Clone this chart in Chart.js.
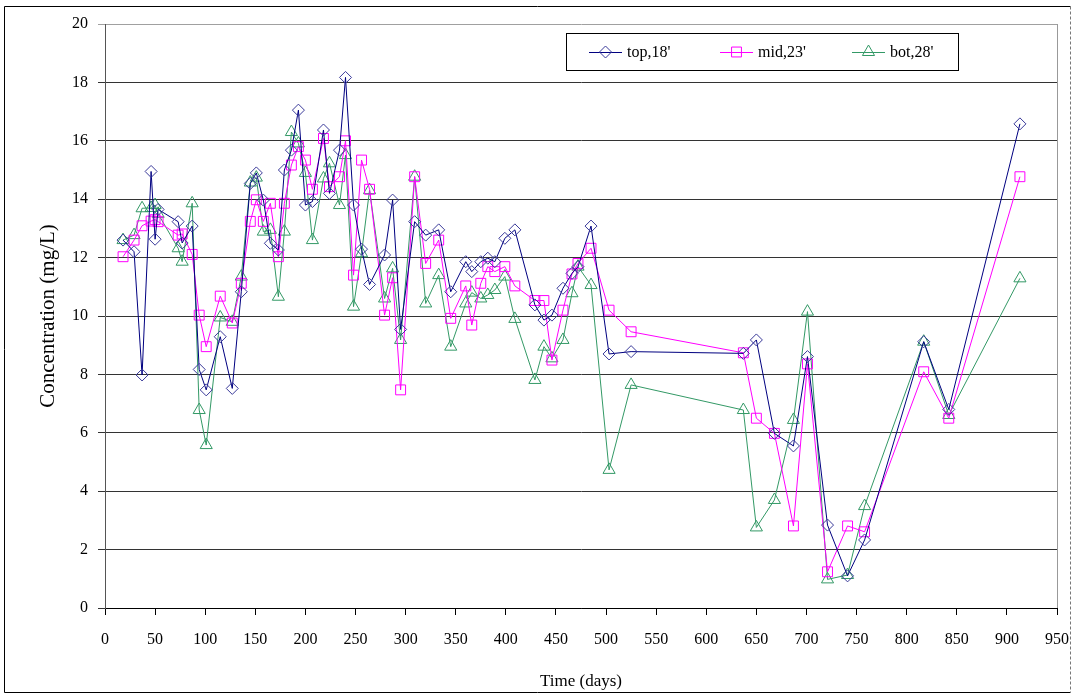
<!DOCTYPE html>
<html>
<head>
<meta charset="utf-8">
<script src="https://cdn.jsdelivr.net/npm/chart.js@4/dist/chart.umd.min.js"></script>
<style>
html, body { margin: 0; padding: 0; background: #fff; }
</style>
</head>
<body>
<canvas id="myChart" width="1075" height="698"></canvas>
<script>
// sampling days (shared by the three depths)
let days = [18, 29, 37, 46, 50, 53, 73, 77, 87, 94,
  101, 115, 127, 136, 145, 151, 158, 165, 173, 179,
  186, 193, 200, 207, 218, 224, 234, 240, 248, 256,
  264, 279, 287, 295, 309, 320, 333, 345, 360, 366,
  375, 382, 389, 399, 409, 429, 438, 446, 457, 466,
  472, 485, 503, 525, 637, 650, 668, 687, 701, 721,
  741, 758, 817, 842, 913];

let topValues = [12.6, 12.2, 7.98, 14.95, 12.63, 13.65, 13.23, 12.5, 13.08, 8.17,
  7.47, 9.29, 7.52, 10.83, 14.54, 14.9, 13.97, 12.49, 12.26, 15.0,
  15.68, 17.05, 13.8, 13.92, 16.37, 14.2, 15.68, 18.17, 13.8, 12.29,
  11.08, 12.09, 13.97, 9.54, 13.23, 12.77, 12.95, 10.83, 11.86, 11.52,
  11.86, 11.98, 11.86, 12.66, 12.95, 10.38, 9.86, 10.03, 10.95, 11.46,
  11.69, 13.08, 8.7, 8.78, 8.72, 9.18, 5.98, 5.55, 8.61, 2.84,
  1.1, 2.33, 9.12, 6.8, 16.58];

let midValues = [12.03, 12.6, 13.09, 13.25, 13.3, 13.23, 12.77, 12.81, 12.11, 10.03,
  8.95, 10.68, 9.76, 11.12, 13.24, 13.98, 13.24, 13.86, 12.03, 13.86,
  15.17, 15.8, 15.34, 14.34, 16.08, 14.43, 14.77, 16.0, 11.4, 15.34,
  14.34, 10.03, 11.31, 7.47, 14.77, 11.8, 12.6, 9.92, 11.03, 9.69,
  11.12, 11.69, 11.52, 11.69, 11.03, 10.53, 10.53, 8.49, 10.2, 11.44,
  11.8, 12.32, 10.2, 9.46, 8.74, 6.5, 5.98, 2.81, 8.36, 1.24,
  2.81, 2.61, 8.09, 6.5, 14.77];

let botValues = [12.6, 12.77, 13.69, 13.7, 13.8, 13.5, 12.32, 11.86, 13.86, 6.78,
  5.58, 9.95, 9.8, 11.35, 14.57, 14.74, 12.89, 12.95, 10.66, 12.89,
  16.3, 15.91, 14.9, 12.6, 14.71, 15.23, 13.8, 15.51, 10.32, 12.15,
  14.31, 10.6, 11.63, 9.18, 14.77, 10.43, 11.4, 8.95, 10.43, 10.8,
  10.6, 10.72, 10.89, 11.35, 9.9, 7.81, 8.95, 8.55, 9.18, 10.78,
  11.69, 11.06, 4.73, 7.64, 6.78, 2.76, 3.7, 6.44, 10.15, 0.98,
  1.13, 3.49, 9.12, 6.61, 11.29];

let seriesNames = ["top,18'", "mid,23'", "bot,28'"];
let seriesColors = ['#000080', '#ff00ff', '#339966'];
let markerColors = ['#3a3a9a', '#ff00ff', '#339966'];
let markerStyles = ['rectRot', 'rect', 'triangle'];
let markerSizes = [6, 7, 7];

function toPoints(values) {
  return days.map((d, i) => ({ x: d, y: values[i] }));
}

const allValues = [topValues, midValues, botValues];

const datasets = allValues.map((vals, i) => ({
  label: seriesNames[i],
  data: toPoints(vals),
  borderColor: seriesColors[i],
  borderWidth: 1,
  pointStyle: markerStyles[i],
  pointRadius: markerSizes[i],
  pointBorderColor: markerColors[i],
  pointBackgroundColor: 'rgba(0,0,0,0)',
  pointBorderWidth: 1,
  tension: 0
}));

// white page, outer frame
const framePlugin = {
  id: 'frame',
  beforeDraw(chart) {
    const ctx = chart.ctx;
    ctx.save();
    ctx.fillStyle = '#fff';
    ctx.fillRect(0, 0, chart.width, chart.height);
    ctx.restore();
  },
  afterDraw(chart) {
    const ctx = chart.ctx;
    ctx.save();
    ctx.strokeStyle = '#000';
    ctx.lineWidth = 1;
    ctx.beginPath();
    ctx.moveTo(1070.5, 6.5);
    ctx.lineTo(4.5, 6.5);
    ctx.lineTo(4.5, 692.5);
    ctx.lineTo(1070.5, 692.5);
    ctx.stroke();
    ctx.setLineDash([3, 2]);
    ctx.strokeStyle = '#777';
    ctx.beginPath();
    ctx.moveTo(1070.5, 6.5);
    ctx.lineTo(1070.5, 692.5);
    ctx.stroke();
    // right edge of plot area
    ctx.setLineDash([]);
    ctx.strokeStyle = '#999';
    const a = chart.chartArea;
    ctx.beginPath();
    ctx.moveTo(a.right + 0.5, a.top);
    ctx.lineTo(a.right + 0.5, a.bottom);
    ctx.stroke();
    ctx.restore();
  }
};

// boxed legend inside the plot, like the original
const boxLegend = {
  id: 'boxLegend',
  afterDatasetsDraw(chart) {
    const ctx = chart.ctx;
    const left = 566, top = 33, w = 392, h = 37;
    ctx.save();
    ctx.fillStyle = '#fff';
    ctx.fillRect(left, top, w, h);
    ctx.strokeStyle = '#000';
    ctx.lineWidth = 1;
    ctx.strokeRect(left + 0.5, top + 0.5, w, h);
    const starts = [589, 720, 852];
    const cy = top + 19;
    ctx.font = '16px "Liberation Serif"';
    ctx.textBaseline = 'middle';
    chart.data.datasets.forEach((ds, i) => {
      const x0 = starts[i];
      ctx.strokeStyle = ds.borderColor;
      ctx.beginPath();
      ctx.moveTo(x0, cy + 0.5);
      ctx.lineTo(x0 + 33, cy + 0.5);
      ctx.stroke();
      ctx.strokeStyle = ds.pointBorderColor;
      ctx.fillStyle = 'rgba(0,0,0,0)';
      Chart.helpers.drawPoint(ctx, { pointStyle: ds.pointStyle, radius: ds.pointRadius, borderWidth: 1 }, x0 + 16.5, cy);
      ctx.fillStyle = '#000';
      ctx.fillText(ds.label, x0 + 38, cy + 1);
    });
    ctx.restore();
  }
};

let chartElement = document.getElementById('myChart').getContext('2d');

let myChart = new Chart(chartElement, {
  type: 'line',
  data: { datasets: datasets },
  options: {
    responsive: false,
    animation: false,
    layout: { padding: { left: 0, top: 24, right: 18, bottom: 0 } },
    plugins: {
      legend: { display: false },
      tooltip: { enabled: false }
    },
    scales: {
      x: {
        type: 'linear',
        min: 0,
        max: 950,
        afterFit(scale) {
          scale.height = 90;
          scale.paddingLeft = 0;
          scale.paddingRight = 0;
        },
        ticks: {
          stepSize: 50,
          color: '#000',
          padding: 15,
          font: { family: 'Liberation Serif', size: 16 },
          maxRotation: 0,
          autoSkip: false
        },
        grid: {
          drawOnChartArea: false,
          drawTicks: true,
          tickLength: 7,
          color: '#000'
        },
        border: { color: '#000', width: 1 },
        title: {
          display: true,
          text: 'Time (days)',
          color: '#000',
          font: { family: 'Liberation Serif', size: 17 },
          padding: { top: 6, bottom: 6 }
        }
      },
      y: {
        min: 0,
        max: 20,
        afterFit(scale) { scale.width = 105; },
        ticks: {
          stepSize: 2,
          color: '#000',
          padding: 10,
          font: { family: 'Liberation Serif', size: 16 }
        },
        grid: {
          color: (c) => (c.tick && c.tick.value === 20 ? '#a0a0a0' : '#333'),
          tickLength: 7,
          lineWidth: 1
        },
        border: { color: '#555', width: 1 },
        title: {
          display: true,
          text: 'Concentration (mg/L)',
          color: '#000',
          font: { family: 'Liberation Serif', size: 21 },
          padding: { top: 36, bottom: 0 }
        }
      }
    }
  },
  plugins: [framePlugin, boxLegend]
});
</script>
</body>
</html>
